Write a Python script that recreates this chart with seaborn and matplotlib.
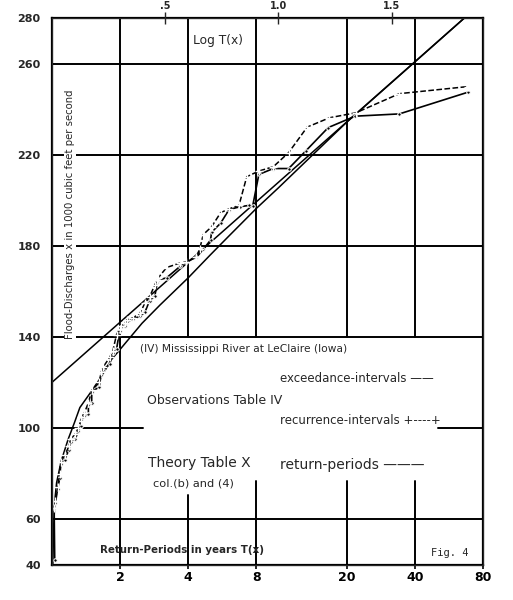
import matplotlib
matplotlib.use("Agg")
import matplotlib.pyplot as plt
import seaborn as sns

# straight line (asymptote), read at its two ends
line_T = [1.0, 66.0]
line_Q = [120, 280]

# theory curve, return periods (Table X col. (b) and (4))
th_T = [1.01, 1.02, 1.035, 1.05, 1.10, 1.18, 1.26, 1.33, 1.48, 1.66, 1.83, 2.0, 2.5,
        3.0, 4.0, 5.0, 6.0, 8.0, 10, 14, 20, 30, 45, 66]
th_Q = [40, 58, 70, 76, 85.5, 95, 102.5, 109, 115.5, 122.8, 130, 134.5, 146,
        154, 166, 176, 184, 196.5, 205.5, 219.5, 234.3, 249.8, 265.3, 280]

# observations, exceedance intervals (solid)
exc_T = [1.03, 1.024, 1.037, 1.06, 1.084, 1.095, 1.14, 1.19, 1.21, 1.27,
         1.31, 1.34, 1.35, 1.39, 1.45, 1.45, 1.50, 1.50, 1.62, 1.65,
         1.69, 1.80, 1.86, 1.93, 1.99, 2.03, 2.10, 2.14, 2.29, 2.45,
         2.58, 2.70, 2.85, 2.92, 2.95, 3.21, 3.68, 3.92, 4.35, 4.66,
         5.02, 5.07, 5.56, 6.06, 6.77, 7.40, 7.70, 8.20, 9.50, 11.1,
         13.2, 16.6, 21.8, 34.2, 68.5]
exc_Q = [42, 65, 67, 73, 78, 84, 86, 90.5, 94, 95.3,
         98.6, 101, 103.4, 105.2, 106, 110, 111, 116, 118, 123.5,
         125.7, 128, 133, 134.5, 142.5, 144.5, 145, 146.5, 148, 149,
         151, 156, 158, 164, 165, 166, 171, 173, 175, 178.5,
         182.6, 186, 190, 196, 197.2, 197.8, 197.5, 211.4, 214, 214,
         221.7, 232, 237, 238, 247.5]

# observations, recurrence intervals (dashed)
rec_T = [1.024, 1.037, 1.06, 1.084, 1.095, 1.14, 1.19, 1.21, 1.27, 1.31,
         1.34, 1.35, 1.39, 1.45, 1.50, 1.62, 1.65, 1.69, 1.80, 1.86,
         1.93, 1.99, 2.03, 2.10, 2.14, 2.29, 2.45, 2.58, 2.70, 2.85,
         2.92, 2.95, 3.21, 3.68, 3.92, 4.35, 4.50, 4.66, 5.07, 5.56,
         6.06, 6.70, 7.25, 8.20, 9.50, 11.1, 13.4, 16.8, 22.0, 34.2, 68.5]
rec_Q = [65, 68, 74, 80, 85, 88, 92, 95, 97.5, 100,
         103, 105, 106.5, 111, 116.5, 120, 124.5, 127, 131, 134,
         141, 143.5, 145, 146, 147.5, 148.5, 150.5, 155, 157.5, 163,
         165, 166, 170.5, 172.5, 173, 175.3, 178.8, 185, 188.4, 194.6,
         196.3, 197.8, 210.4, 212.9, 214.8, 221, 232.2, 236.3, 238.5, 246.9, 250]

x_ticks = [2, 4, 8, 20, 40, 80]
y_ticks = [40, 60, 100, 140, 180, 220, 260, 280]
top_ticks = [10 ** 0.5, 10, 10 ** 1.5]
top_labels = [".5", "1.0", "1.5"]

sns.set_style("white")
plt.rcParams['font.family'] = ['DejaVu Sans']

fig = plt.figure(figsize=(5.13, 6.0), dpi=100)
ax = fig.add_axes([0.101, 0.059, 0.8405, 0.9105])

# grid, with the gaps left for the lettering
for v in [60, 140, 180, 220, 260]:
    ax.axhline(v, color="black", lw=1.4, zorder=1)
ax.axhline(100, xmax=0.212, color="black", lw=1.4, zorder=1)
ax.axhline(100, xmin=0.896, color="black", lw=1.4, zorder=1)
ax.axvline(2, color="black", lw=1.4, zorder=1)
for v in [4, 8, 20, 40]:
    ax.axvline(v, ymin=0.4167, color="black", lw=1.4, zorder=1)
ax.axvline(4, ymax=0.127, color="black", lw=1.4, zorder=1)
for v in [8, 20, 40]:
    ax.axvline(v, ymax=0.153, color="black", lw=1.4, zorder=1)

sns.lineplot(x=line_T, y=line_Q, ax=ax, color="black", lw=1.1, estimator=None, sort=False)
sns.lineplot(x=th_T, y=th_Q, ax=ax, color="black", lw=1.1, estimator=None, sort=False)
sns.lineplot(x=exc_T, y=exc_Q, ax=ax, color="black", lw=1.2, marker="o", markersize=2.5,
             estimator=None, sort=False)
sns.lineplot(x=rec_T, y=rec_Q, ax=ax, color="black", lw=1.1, marker="+", markersize=6,
             markeredgewidth=1.0, dashes=(3, 2), linestyle="--", estimator=None, sort=False)

ax.set_xscale("log")
ax.set_xlim(1, 80)
ax.set_ylim(40, 280)
ax.xaxis.set_minor_locator(matplotlib.ticker.NullLocator())
ax.set_xticks(x_ticks)
ax.set_xticklabels([str(t) for t in x_ticks], fontweight="bold", fontsize=9)
ax.set_yticks(y_ticks)
ax.set_yticklabels([str(t) for t in y_ticks], fontweight="bold", fontsize=8)
ax.tick_params(axis="y", length=0, pad=8)
ax.tick_params(axis="x", length=3, width=1.2, pad=1.5, colors="black")
for s in ax.spines.values():
    s.set_color("black")
    s.set_linewidth(1.6)

ax2 = ax.twiny()
ax2.set_xscale("log")
ax2.set_xlim(1, 80)
ax2.xaxis.set_minor_locator(matplotlib.ticker.NullLocator())
ax2.set_xticks(top_ticks)
ax2.set_xticklabels(top_labels, fontsize=7, fontweight="bold")
ax2.tick_params(axis="x", direction="inout", length=9, width=1.0, pad=1)

def fx(px):
    return (px - 51.7) / 431.3

def fy(py):
    return (564.5 - py) / 546.2

ax.text(fx(70), fy(214), "Flood-Discharges x in 1000 cubic feet per second", rotation=90,
        fontsize=7.3, ha="center", va="center", transform=ax.transAxes,
        bbox=dict(facecolor="white", edgecolor="none", pad=0.5))
ax.text(fx(193), fy(40), "Log T(x)", fontsize=8.8, va="center", transform=ax.transAxes)
ax.text(fx(140), fy(349), "(IV) Mississippi River at LeClaire (Iowa)", fontsize=7.7,
        va="center", transform=ax.transAxes)
ax.text(fx(280), fy(378), "exceedance-intervals \u2014\u2014", fontsize=8.5, va="center",
        transform=ax.transAxes)
ax.text(fx(147), fy(400), "Observations Table IV", fontsize=9, va="center",
        transform=ax.transAxes)
ax.text(fx(280), fy(420), "recurrence-intervals +----+", fontsize=8.5, va="center",
        transform=ax.transAxes)
ax.text(fx(148), fy(463), "Theory Table X", fontsize=10, va="center", transform=ax.transAxes)
ax.text(fx(153), fy(483), "col.(b) and (4)", fontsize=8.2, va="center", transform=ax.transAxes)
ax.text(fx(280), fy(465), "return-periods \u2014\u2014\u2014", fontsize=10, va="center",
        transform=ax.transAxes)
ax.text(fx(100), fy(550), "Return-Periods in years T(x)", fontsize=7.4, fontweight="bold",
        va="center", transform=ax.transAxes)
ax.text(fx(431), fy(553), "Fig. 4", fontsize=7.5, family="DejaVu Sans Mono", va="center",
        transform=ax.transAxes)

fig.savefig("out.png", dpi=100)
